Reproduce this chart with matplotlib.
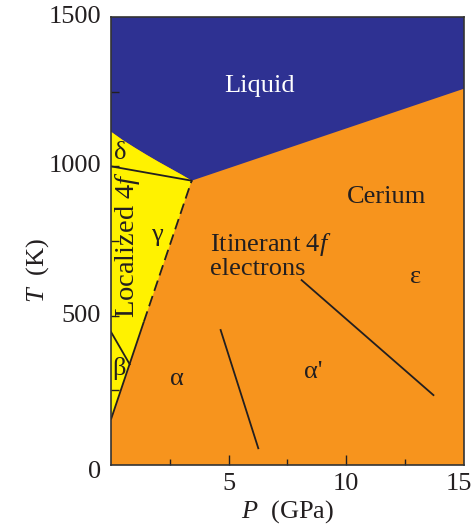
import matplotlib
matplotlib.use("Agg")
import matplotlib.pyplot as plt
from matplotlib.patches import Polygon

plt.rcParams['font.family'] = ['Liberation Serif', 'DejaVu Serif']
plt.rcParams['mathtext.fontset'] = 'custom'
plt.rcParams['mathtext.rm'] = 'Liberation Serif'
plt.rcParams['mathtext.it'] = 'Liberation Serif:italic'

# ---- data (P in GPa, T in K) ----
liquid_p = [0, 0.5, 1.0, 1.5, 2.0, 2.5, 3.0, 3.43]
liquid_t = [1116, 1088, 1063, 1039, 1016, 994, 972, 952]
melt_p = [3.43, 15]
melt_t = [952, 1260]
delta_gamma_p = [0, 3.43]
delta_gamma_t = [1000, 952]
alpha_solid_p = [0, 1.4]
alpha_solid_t = [152, 480]
alpha_dash_p = [1.4, 3.43]
alpha_dash_t = [480, 952]
beta_p = [0, 0.8]
beta_t = [446, 337]
aap_p = [4.66, 6.26]
aap_t = [452, 56]
ape_p = [8.10, 13.70]
ape_t = [619, 234]

x_major = [5, 10]
x_minor = [2.5, 7.5, 12.5]
x_labels = ['5', '10', '15']
x_label_pos = [5, 10, 15]
y_labels = ['0', '500', '1000', '1500']
y_label_pos = [0, 500, 1000, 1500]
y_ticks = [250, 500, 750, 1000, 1250]

BLUE = '#2E3192'
ORANGE = '#F7941D'
YELLOW = '#FFF200'
INK = '#231F20'

fig = plt.figure(figsize=(4.74, 5.25), dpi=100)
ax = fig.add_axes([0.234, 0.1143, 0.745, 0.8533])
ax.set_xlim(0, 15)
ax.set_ylim(0, 1500)
ax.set_facecolor(ORANGE)

# liquid region
blue_pts = [(0, 1500), (15, 1500), (melt_p[1], melt_t[1])] + \
    list(zip(liquid_p[::-1], liquid_t[::-1]))
ax.add_patch(Polygon(blue_pts, closed=True, facecolor=BLUE, edgecolor='none', zorder=1))

# localized (yellow) region
yellow_pts = list(zip(liquid_p, liquid_t)) + \
    [(alpha_dash_p[0], alpha_dash_t[0]), (alpha_solid_p[0], alpha_solid_t[0])]
ax.add_patch(Polygon(yellow_pts, closed=True, facecolor=YELLOW, edgecolor='none', zorder=1))

lw = 1.3
ax.plot(delta_gamma_p, delta_gamma_t, color=INK, lw=lw, zorder=3)
ax.plot(alpha_solid_p, alpha_solid_t, color=INK, lw=lw, zorder=3, solid_capstyle='butt')
ax.plot(alpha_dash_p, alpha_dash_t, color=INK, lw=lw, zorder=3, dashes=(6, 3))
ax.plot(beta_p, beta_t, color=INK, lw=lw, zorder=3)
ax.plot(aap_p, aap_t, color=INK, lw=lw, zorder=3)
ax.plot(ape_p, ape_t, color=INK, lw=lw, zorder=3)

fs = 19
ax.text(6.33, 1268, 'Liquid', color='white', fontsize=fs, ha='center', va='center')
ax.text(11.7, 897, 'Cerium', color=INK, fontsize=fs, ha='center', va='center')
ax.text(4.2, 703, 'Itinerant 4$f$\nelectrons', color=INK, fontsize=fs, ha='left',
        va='center', linespacing=1.0)
ax.text(12.92, 630, 'ε', color=INK, fontsize=fs, ha='center', va='center')
ax.text(8.6, 312, "α'", color=INK, fontsize=fs, ha='center', va='center')
ax.text(2.82, 287, 'α', color=INK, fontsize=fs, ha='center', va='center')
ax.text(0.33, 324, 'β', color=INK, fontsize=fs, ha='center', va='center')
ax.text(1.95, 770, 'γ', color=INK, fontsize=fs, ha='center', va='center')
ax.text(0.41, 1043, 'δ', color=INK, fontsize=fs, ha='center', va='center')
ax.text(0.70, 737, 'Localized 4$f$', color=INK, fontsize=20.5, ha='center',
        va='center', rotation=90)

# ticks
ax.set_xticks(x_major)
ax.set_xticks(x_minor, minor=True)
ax.tick_params(axis='x', which='major', direction='in', length=7, width=1.0,
               color=INK, labelbottom=False)
ax.tick_params(axis='x', which='minor', direction='in', length=4.5, width=1.0, color=INK)
ax.set_yticks(y_ticks)
ax.tick_params(axis='y', which='major', direction='in', length=6, width=1.0,
               color=INK, labelleft=False)
x_offsets = [0, 0, -4]
for pos, lab, dx in zip(x_label_pos, x_labels, x_offsets):
    ax.annotate(lab, xy=(pos, 0), xycoords=('data', 'axes fraction'),
                xytext=(dx, -6), textcoords='offset points', fontsize=fs,
                ha='center', va='top', color=INK)
y_offsets = [-5, 0, 0, 0]
for pos, lab, dy in zip(y_label_pos, y_labels, y_offsets):
    ax.annotate(lab, xy=(0, pos), xycoords=('axes fraction', 'data'),
                xytext=(-7, dy), textcoords='offset points', fontsize=fs,
                ha='right', va='center', color=INK)

for s in ax.spines.values():
    s.set_color('#333333')
    s.set_linewidth(1.2)
    s.set_zorder(5)

fig.text(288 / 474, 1 - 512 / 525, '$P$  (GPa)', fontsize=fs, ha='center', va='center', color=INK)
fig.text(38 / 474, 1 - 270 / 525, '$T$  (K)', fontsize=fs, ha='center', va='center',
         rotation=90, color=INK)

fig.savefig('out.png', dpi=100)
